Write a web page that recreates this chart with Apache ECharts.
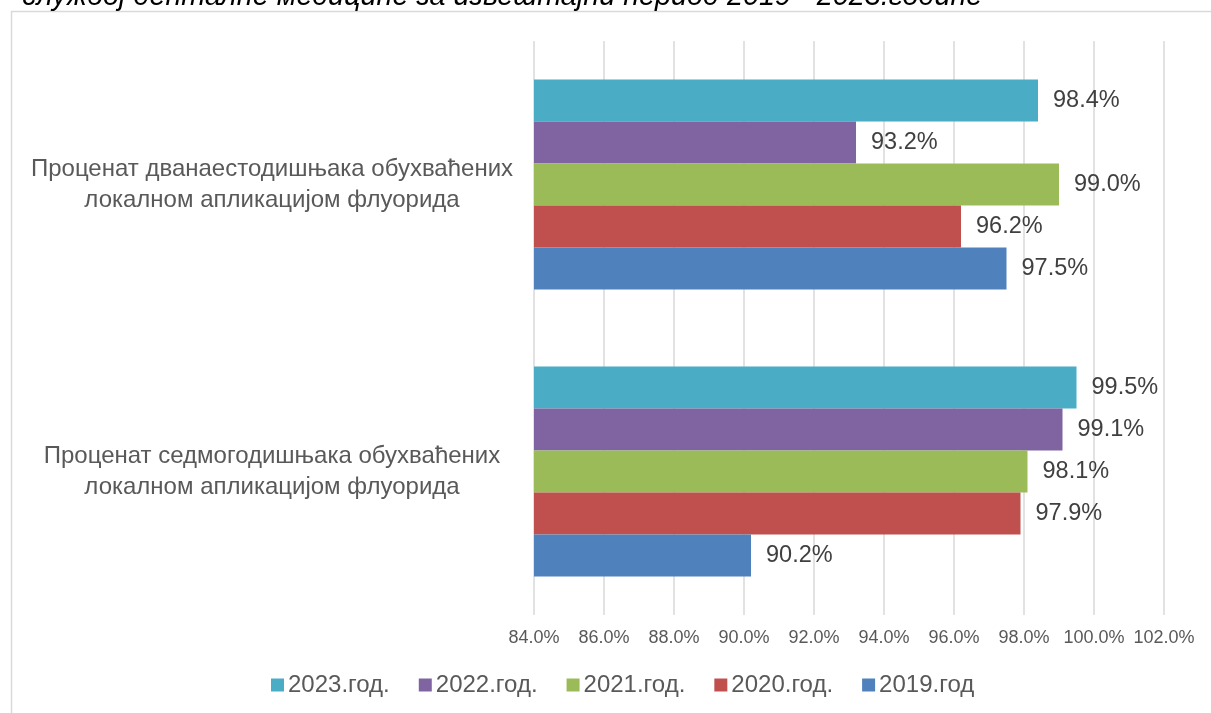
<!DOCTYPE html>
<html>
<head>
<meta charset="utf-8">
<script src="https://cdn.jsdelivr.net/npm/echarts@6/dist/echarts.min.js"></script>
<style>
  html, body { margin: 0; padding: 0; background: #ffffff; }
  #chart { width: 1211px; height: 713px; }
</style>
</head>
<body>
<div id="chart"></div>
<script>
// Categories (bottom to top on the category scale)
const categories = [
  'Проценат седмогодишњака обухваћених\nлокалном апликацијом флуорида',
  'Проценат дванаестодишњака обухваћених\nлокалном апликацијом флуорида'
];
// Yearly coverage values, in percent, per category
const years = ['2023.год.', '2022.год.', '2021.год.', '2020.год.', '2019.год'];
const values2023 = [99.5, 98.4];
const values2022 = [99.1, 93.2];
const values2021 = [98.1, 99.0];
const values2020 = [97.9, 96.2];
const values2019 = [90.2, 97.5];
const titleText = 'службој денталне медицине за извештајни период 2019 - 2023.године';

const colors = {
  '2023.год.': '#4BACC6',
  '2022.год.': '#8064A2',
  '2021.год.': '#9BBB59',
  '2020.год.': '#C0504D',
  '2019.год': '#4F81BD'
};
const seriesValues = [values2023, values2022, values2021, values2020, values2019];
const FONT = 'Liberation Sans, Arial, sans-serif';

const chart = echarts.init(document.getElementById('chart'), null, { renderer: 'canvas' });

const series = years.map((name, i) => ({
  name: name,
  type: 'bar',
  data: seriesValues[i],
  barWidth: 42,
  barGap: '0%',
  itemStyle: { color: colors[name] },
  label: {
    show: true,
    position: 'right',
    distance: 15,
    formatter: p => p.value.toFixed(1) + '%',
    fontFamily: FONT,
    fontSize: 23.5,
    color: '#404040'
  }
}));

chart.setOption({
  animation: false,
  backgroundColor: '#ffffff',
  textStyle: { fontFamily: FONT },
  graphic: [
    {
      type: 'rect',
      shape: { x: 11.5, y: 11.5, width: 1230, height: 740 },
      style: { fill: 'none', stroke: '#d9d9d9', lineWidth: 1.5 },
      silent: true
    },
    {
      type: 'text',
      x: 22,
      y: -3,
      style: {
        text: titleText,
        font: 'italic 28.8px "Liberation Sans", Arial, sans-serif',
        fill: '#000000',
        verticalAlign: 'middle'
      },
      silent: true
    }
  ],
  legend: {
    data: years,
    left: 266,
    top: 668,
    icon: 'rect',
    itemWidth: 13,
    itemHeight: 13,
    itemGap: 29,
    textStyle: {
      fontFamily: FONT,
      fontSize: 24,
      color: '#595959',
      padding: [0, 0, 0, -1]
    }
  },
  grid: {
    left: 534,
    right: 47,
    top: 41,
    bottom: 98,
    containLabel: false
  },
  xAxis: {
    type: 'value',
    min: 84,
    max: 102,
    interval: 2,
    axisLine: { show: false },
    axisTick: { show: false },
    splitLine: { show: true, lineStyle: { color: '#d9d9d9', width: 1.5 } },
    axisLabel: {
      formatter: v => v.toFixed(1) + '%',
      fontFamily: FONT,
      fontSize: 18,
      color: '#595959',
      margin: 14
    }
  },
  yAxis: {
    type: 'category',
    data: categories,
    axisLine: { show: false },
    axisTick: { show: false },
    axisLabel: {
      align: 'center',
      margin: 262,
      fontFamily: FONT,
      fontSize: 24,
      lineHeight: 31,
      color: '#595959'
    }
  },
  series: series
});
</script>
</body>
</html>
